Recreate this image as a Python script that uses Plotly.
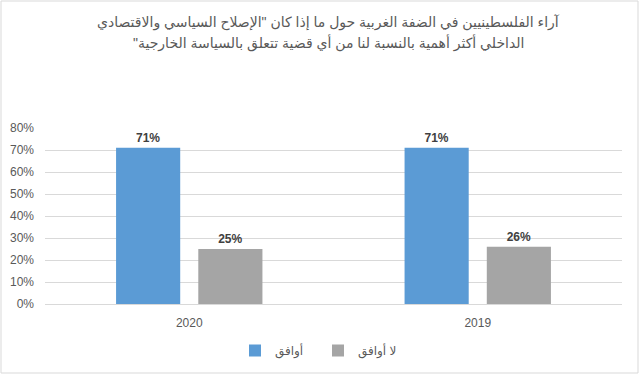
import plotly.graph_objects as go

categories = ["2020", "2019"]
agree = [0.71, 0.71]
disagree = [0.25, 0.26]
series_names = ["أوافق", "لا أوافق"]
title_lines = [
    "آراء الفلسطينيين في الضفة الغربية حول ما إذا كان \"الإصلاح السياسي والاقتصادي",
    "الداخلي أكثر أهمية بالنسبة لنا من أي قضية تتعلق بالسياسة الخارجية\"\u200F",
]
tick_vals = [0, 0.1, 0.2, 0.3, 0.4, 0.5, 0.6, 0.7, 0.8]
tick_text = ["0%", "10%", "20%", "30%", "40%", "50%", "60%", "70%", "80%"]

FONT = "Liberation Sans, Arial, DejaVu Sans, sans-serif"
W, H = 640, 374
ML, MR, MT, MB = 45, 18, 128, 70
pw, ph = W - ML - MR, H - MT - MB


def py(px):
    """pixel row -> paper y"""
    return (H - MB - px) / ph


def px_x(px):
    return (px - ML) / pw


fig = go.Figure()
for vals, name, color in [(agree, series_names[0], "#5b9bd5"),
                          (disagree, series_names[1], "#a5a5a5")]:
    fig.add_trace(go.Bar(
        x=categories, y=vals, name=name,
        marker=dict(color=color, line=dict(width=0)),
        text=[f"{round(v*100)}%" for v in vals], textposition="outside",
        textfont=dict(family=FONT, size=12, color="#404040"),
        texttemplate="<b>%{text}</b>", cliponaxis=False,
    ))

annotations = []
for i, line in enumerate(title_lines):
    annotations.append(dict(
        text=line, xref="paper", yref="paper",
        x=px_x(328), y=py(22 + i * 21), xanchor="center", yanchor="middle",
        showarrow=False,
        font=dict(family=FONT, size=14, color="#595959"),
    ))

fig.update_layout(
    template="none",
    width=W, height=H,
    margin=dict(l=ML, r=MR, t=MT, b=MB, autoexpand=False),
    paper_bgcolor="white", plot_bgcolor="white",
    barmode="group", bargap=0.43, bargroupgap=0.22,
    font=dict(family=FONT, size=12, color="#595959"),
    showlegend=True,
    annotations=annotations,
    legend=dict(
        orientation="h", x=px_x(318), xanchor="center", xref="paper",
        y=py(336), yanchor="top", yref="paper",
        font=dict(family=FONT, size=12, color="#595959"),
        itemwidth=30, entrywidth=38, entrywidthmode="pixels",
        traceorder="normal", bgcolor="rgba(0,0,0,0)",
    ),
    xaxis=dict(
        type="category", categoryorder="array", categoryarray=categories,
        showgrid=False, showline=True, linecolor="#d9d9d9", linewidth=1,
        tickfont=dict(family=FONT, size=12, color="#595959"),
        ticks="", ticklabelstandoff=8, automargin=False, zeroline=False,
    ),
    yaxis=dict(
        range=[0, 0.8], tickvals=tick_vals, ticktext=tick_text,
        showgrid=True, gridcolor="#d9d9d9", gridwidth=1,
        zeroline=False, showline=False, ticks="", ticklabelstandoff=10,
        tickfont=dict(family=FONT, size=12, color="#595959"),
        automargin=False,
    ),
    shapes=[dict(
        type="rect", xref="paper", yref="paper",
        x0=px_x(1), x1=px_x(638),
        y0=py(373), y1=py(1),
        line=dict(color="#d9d9d9", width=1), fillcolor="rgba(0,0,0,0)",
        layer="below",
    )],
)

fig.write_html(
    "out.html",
    config={"displayModeBar": False},
    post_script="document.body.style.margin='0';",
)
